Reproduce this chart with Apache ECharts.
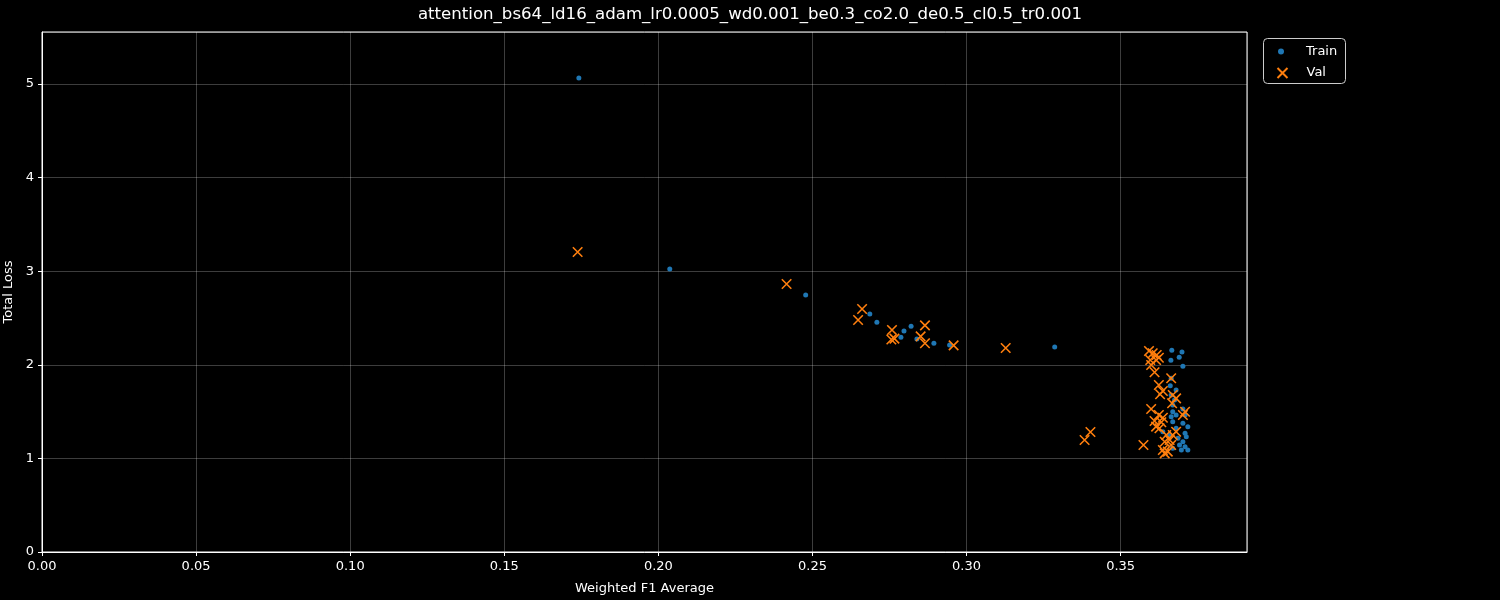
<!DOCTYPE html>
<html><head><meta charset="utf-8">
<script src="https://cdn.jsdelivr.net/npm/echarts@6/dist/echarts.min.js"></script>
<style>html,body{margin:0;padding:0;background:#000;}#c{width:1500px;height:600px;}</style>
</head><body><div id="c"></div>
<script>
const titleText = "attention_bs64_ld16_adam_lr0.0005_wd0.001_be0.3_co2.0_de0.5_cl0.5_tr0.001";
const xLabel = "Weighted F1 Average";
const yLabel = "Total Loss";
const seriesNames = ["Train", "Val"];

const trainF1 = [0.1742,0.2037,0.2478,0.2686,0.2709,0.2797,0.2820,0.2787,0.2839,0.2894,0.2945,0.3286,
  0.3666,0.3699,0.3690,0.3663,0.3702,0.3664,0.3661,0.3680,0.3664,0.3675,0.3669,0.3702,0.3669,0.3680,0.3664,
  0.3709,0.3702,0.3718,0.3669,0.3680,0.3709,0.3713,0.3702,0.3691,0.3718,0.3697,0.3637,0.3659,0.3669,0.3709,0.3686];
const trainLoss = [5.064,3.024,2.746,2.543,2.454,2.361,2.411,2.294,2.276,2.230,2.212,2.190,
  2.155,2.137,2.080,2.048,1.984,1.856,1.777,1.731,1.677,1.624,1.571,1.528,1.499,1.464,1.446,
  1.464,1.375,1.339,1.392,1.322,1.268,1.232,1.178,1.143,1.090,1.090,1.285,1.250,1.108,1.125,1.215];

const valF1 = [0.1738,0.2416,0.2661,0.2648,0.2758,0.2756,0.2766,0.2865,0.2851,0.2865,0.2958,0.3127,0.3383,0.3402,0.3574,
  0.3592,0.3604,0.3617,0.3624,0.3596,0.3615,0.3599,0.3610,0.3664,0.3624,0.3637,0.3628,0.3669,0.3680,0.3667,
  0.3599,0.3624,0.3637,0.3610,0.3632,0.3615,0.3626,0.3709,0.3702,0.3648,0.3669,0.3680,0.3659,0.3643,0.3664,
  0.3637,0.3653,0.3643];
const valLoss = [3.205,2.863,2.596,2.479,2.372,2.270,2.280,2.422,2.304,2.230,2.208,2.180,1.197,1.282,1.143,
  2.147,2.123,2.105,2.076,2.051,2.051,1.998,1.920,1.856,1.784,1.720,1.685,1.677,1.642,1.589,
  1.528,1.464,1.435,1.400,1.386,1.339,1.322,1.499,1.464,1.250,1.250,1.285,1.197,1.178,1.143,
  1.090,1.072,1.054];

const xTicks = {min: 0, max: 0.391, interval: 0.05};
const yTicks = {min: 0, max: 5.556, interval: 1};

const font = "DejaVu Sans";
const xPath = 'path://M0,0L10,10M10,0L0,10';
const chart = echarts.init(document.getElementById('c'), null, {renderer: 'canvas'});
const axisCommon = {
  axisLine: {show: true, onZero: false, lineStyle: {color: '#fff', width: 1}},
  axisTick: {show: true, inside: false, length: 4, lineStyle: {color: '#fff'}},
  splitLine: {show: true, lineStyle: {color: 'rgba(255,255,255,0.3)', width: 0.8}},
  axisLabel: {color: '#fff', fontFamily: font, fontSize: 13, showMaxLabel: false},
  nameTextStyle: {color: '#fff', fontFamily: font, fontSize: 13}
};
const legendText = {color: '#fff', fontFamily: font, fontSize: 13, lineHeight: 16};
chart.setOption({
  backgroundColor: '#000',
  animation: false,
  title: {text: titleText, left: 745, top: 1, textAlign: 'center',
    textStyle: {color: '#fff', fontFamily: font, fontSize: 16.6, fontWeight: 'normal'}},
  grid: {left: 42, right: 253, top: 32, bottom: 48, outerBoundsMode: 'none', containLabel: false,
    show: true, borderColor: '#fff', borderWidth: 1, backgroundColor: '#000'},
  graphic: [{type: 'rect', left: 1263, top: 38, z: 1,
    shape: {width: 82, height: 45, r: 4},
    style: {fill: '#000', stroke: '#cccccc', lineWidth: 1}}],
  legend: [
    {left: 1278, top: 43.5, orient: 'vertical', padding: 0, itemWidth: 6, itemHeight: 6, z: 10,
     textStyle: Object.assign({}, legendText, {padding: [0, 0, 0, 17]}),
     data: [{name: seriesNames[0], icon: 'circle'}]},
    {left: 1276.5, top: 65, orient: 'vertical', padding: 0, itemWidth: 10, itemHeight: 10, z: 10,
     textStyle: Object.assign({}, legendText, {padding: [0, 0, 0, 14]}),
     data: [{name: seriesNames[1], icon: xPath}]}
  ],
  xAxis: Object.assign({}, axisCommon, {
    type: 'value', min: xTicks.min, max: xTicks.max, interval: xTicks.interval,
    name: xLabel, nameLocation: 'middle', nameGap: 30,
    axisLabel: Object.assign({}, axisCommon.axisLabel, {formatter: v => v.toFixed(2)})
  }),
  yAxis: Object.assign({}, axisCommon, {
    type: 'value', min: yTicks.min, max: yTicks.max, interval: yTicks.interval,
    name: yLabel, nameLocation: 'middle', nameGap: 24,
    axisLabel: Object.assign({}, axisCommon.axisLabel, {formatter: v => String(v)})
  }),
  series: [
    {name: seriesNames[0], type: 'scatter', symbol: 'circle', symbolSize: 5,
     itemStyle: {color: '#1f77b4', opacity: 1},
     data: trainF1.map((x, i) => [x, trainLoss[i]])},
    {name: seriesNames[1], type: 'scatter', symbol: xPath, symbolSize: 9.5,
     itemStyle: {color: 'rgba(0,0,0,0)', borderColor: '#ff7f0e', borderWidth: 1.6, opacity: 1},
     data: valF1.map((x, i) => [x, valLoss[i]])}
  ]
});
</script></body></html>
